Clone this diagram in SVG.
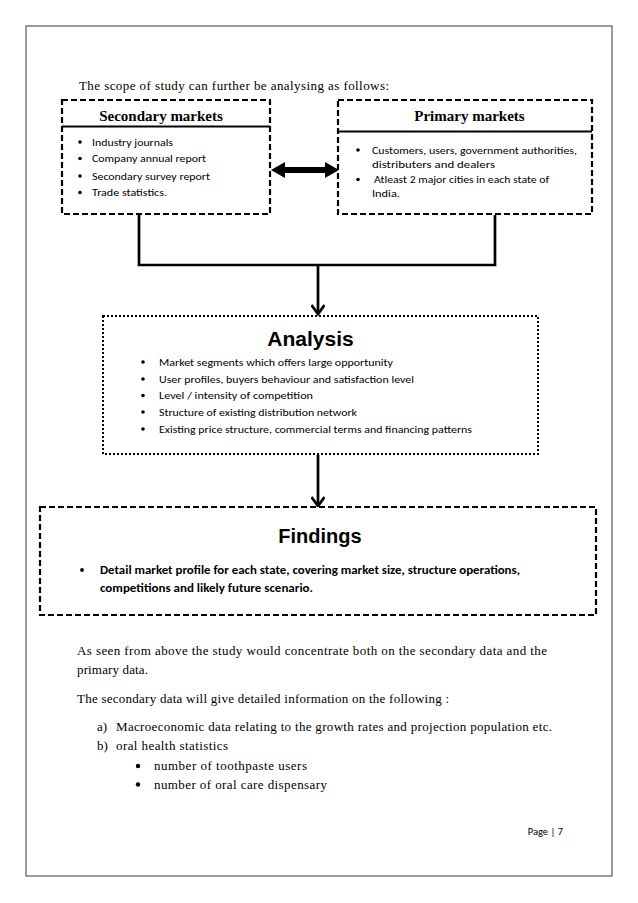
<svg xmlns="http://www.w3.org/2000/svg" width="638" height="903" viewBox="0 0 638 903">
<style>
.pg{fill:#fff;stroke:#7a7a7a;stroke-width:1.5}
.dash{fill:#fff;stroke:#000;stroke-width:2.2;stroke-dasharray:6 3}
.dot{fill:#fff;stroke:#000;stroke-width:2;stroke-dasharray:2 2}
.hl{stroke:#000;stroke-width:2}
.tm{font-family:"Liberation Serif","Times New Roman",serif;font-size:13px;fill:#000}
.tmb{font-family:"Liberation Serif","Times New Roman",serif;font-size:15px;font-weight:bold;fill:#000}
.cb{font-family:Carlito,"Liberation Sans",Arial,sans-serif;font-size:10.5px;fill:#000}
.cbb{font-family:Carlito,"Liberation Sans",Arial,sans-serif;font-size:11px;font-weight:bold;fill:#000}
.hd{font-family:"Liberation Sans",Arial,sans-serif;font-weight:bold;fill:#000}
.bl{fill:#000}
.con{fill:none;stroke:#000;stroke-width:2.7}
</style>
<defs>
<marker id="chev" viewBox="0 0 14 14" refX="12" refY="7" markerWidth="14" markerHeight="14" markerUnits="userSpaceOnUse" orient="auto">
<path d="M3,0.5 L12,7 L3,13.5" fill="none" stroke="#000" stroke-width="2.8"/>
</marker>
</defs>
<rect x="0" y="0" width="638" height="903" fill="#fff"/>
<rect class="pg" x="26" y="26" width="586" height="850"/>

<text class="tm" x="79" y="90" textLength="310">The scope of study can further be analysing as follows:</text>

<g id="connectors">
<polyline class="con" points="139,215 139,265 495,265 495,215"/>
<line class="con" x1="318" y1="265" x2="318" y2="314" marker-end="url(#chev)"/>
<line class="con" x1="318" y1="455" x2="318" y2="506" marker-end="url(#chev)"/>
<polygon class="bl" points="271,170 285,162 285,167 325,167 325,162 339,170 325,178 325,173 285,173 285,178"/>
</g>

<g id="secondary">
<rect class="dash" x="62" y="100" width="208" height="114"/>
<line class="hl" x1="62" y1="126.5" x2="270" y2="126.5"/>
<text class="tmb" x="161" y="121" text-anchor="middle">Secondary markets</text>
<circle class="bl" cx="80" cy="142" r="1.8"/>
<text class="cb" x="92" y="145.5" textLength="81" lengthAdjust="spacingAndGlyphs">Industry journals</text>
<circle class="bl" cx="80" cy="158.5" r="1.8"/>
<text class="cb" x="92" y="162" textLength="114" lengthAdjust="spacingAndGlyphs">Company annual report</text>
<circle class="bl" cx="80" cy="176" r="1.8"/>
<text class="cb" x="92" y="179.5" textLength="118" lengthAdjust="spacingAndGlyphs">Secondary survey report</text>
<circle class="bl" cx="80" cy="192.5" r="1.8"/>
<text class="cb" x="92" y="196" textLength="75" lengthAdjust="spacingAndGlyphs">Trade statistics.</text>
</g>

<g id="primary">
<rect class="dash" x="338" y="100" width="254" height="114"/>
<line class="hl" x1="338" y1="131.5" x2="592" y2="131.5"/>
<text class="tmb" x="469.5" y="121" text-anchor="middle">Primary markets</text>
<circle class="bl" cx="358" cy="150" r="1.8"/>
<text class="cb" x="372" y="153.5" textLength="205" lengthAdjust="spacingAndGlyphs">Customers, users, government authorities,</text>
<text class="cb" x="372" y="167.5" textLength="123" lengthAdjust="spacingAndGlyphs">distributers and dealers</text>
<circle class="bl" cx="358" cy="179.5" r="1.8"/>
<text class="cb" x="374" y="183" textLength="175" lengthAdjust="spacingAndGlyphs">Atleast 2 major cities in each state of</text>
<text class="cb" x="372" y="197" textLength="28" lengthAdjust="spacingAndGlyphs">India.</text>
</g>

<g id="analysis">
<rect class="dot" x="103" y="316" width="435" height="138"/>
<text class="hd" x="310.5" y="346" font-size="21" text-anchor="middle">Analysis</text>
<circle class="bl" cx="143" cy="362" r="1.8"/>
<text class="cb" x="159" y="365.5" textLength="234" lengthAdjust="spacingAndGlyphs">Market segments which offers large opportunity</text>
<circle class="bl" cx="143" cy="379" r="1.8"/>
<text class="cb" x="159" y="382.5" textLength="255" lengthAdjust="spacingAndGlyphs">User profiles, buyers behaviour and satisfaction level</text>
<circle class="bl" cx="143" cy="395.5" r="1.8"/>
<text class="cb" x="159" y="399" textLength="154" lengthAdjust="spacingAndGlyphs">Level  / intensity of competition</text>
<circle class="bl" cx="143" cy="412" r="1.8"/>
<text class="cb" x="159" y="415.5" textLength="198" lengthAdjust="spacingAndGlyphs">Structure of existing distribution network</text>
<circle class="bl" cx="143" cy="429" r="1.8"/>
<text class="cb" x="159" y="432.5" textLength="313" lengthAdjust="spacingAndGlyphs">Existing price structure, commercial terms and financing patterns</text>
</g>

<g id="findings">
<rect class="dash" x="40" y="507" width="556" height="108"/>
<text class="hd" x="320" y="543" font-size="20" text-anchor="middle">Findings</text>
<circle class="bl" cx="82" cy="570" r="1.9"/>
<text class="cbb" x="100" y="574" textLength="420" lengthAdjust="spacingAndGlyphs">Detail market profile for each state, covering market size, structure operations,</text>
<text class="cbb" x="100" y="592" textLength="213" lengthAdjust="spacingAndGlyphs">competitions and likely future scenario.</text>
</g>

<text class="tm" x="77" y="655" textLength="470">As seen from above the study would concentrate both on the secondary data and the</text>
<text class="tm" x="77" y="673.5" textLength="71">primary data.</text>
<text class="tm" x="77" y="702.5" textLength="372">The secondary data will give detailed information on the following :</text>
<text class="tm" x="97" y="730.5">a)</text>
<text class="tm" x="116" y="730.5" textLength="436">Macroeconomic data relating to the growth rates and projection population etc.</text>
<text class="tm" x="97" y="749.5">b)</text>
<text class="tm" x="116" y="749.5" textLength="112">oral health statistics</text>
<circle class="bl" cx="138" cy="766" r="2.2"/>
<text class="tm" x="154" y="770" textLength="153">number of toothpaste users</text>
<circle class="bl" cx="138" cy="784.5" r="2.2"/>
<text class="tm" x="154" y="788.5" textLength="173">number of oral care dispensary</text>

<text class="cb" x="563" y="835" font-size="11" text-anchor="end">Page | 7</text>
</svg>
